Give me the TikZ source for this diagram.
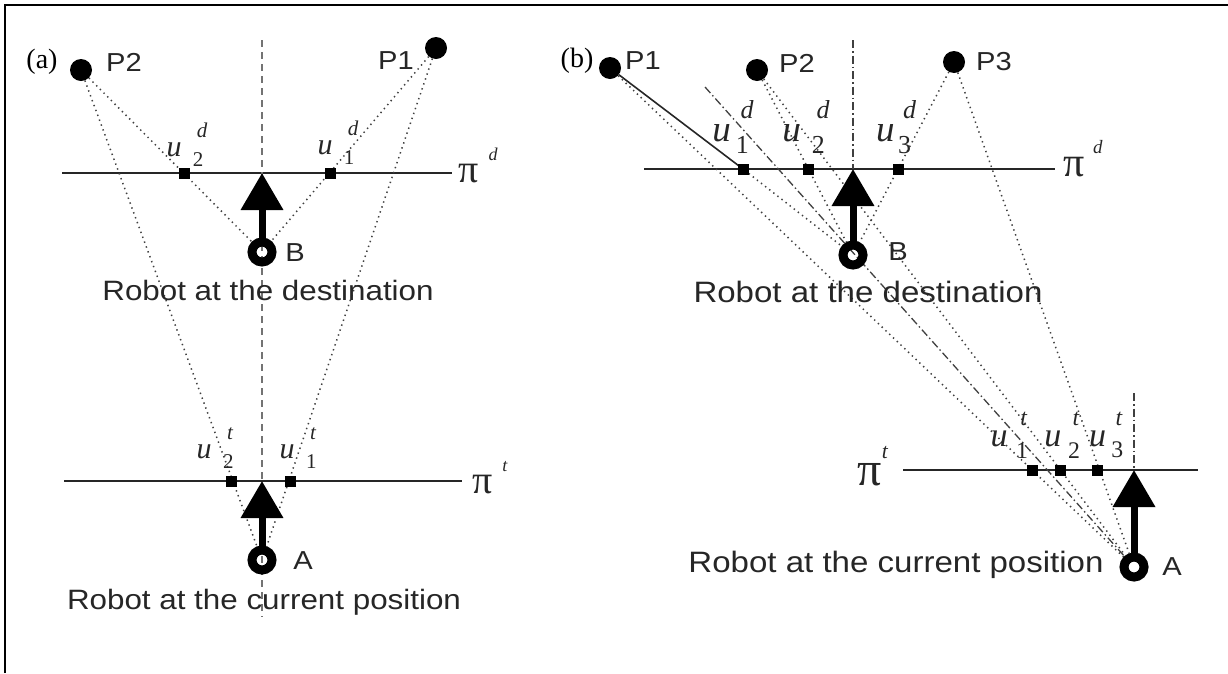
\documentclass[tikz,border=0pt]{standalone}
\usepackage{fontspec}
\newfontfamily\labelfont{Liberation Sans}[FakeStretch=1.12]
\newfontfamily\tagfont{Liberation Serif}
\usetikzlibrary{arrows.meta,backgrounds}

% projection label u with a low index and a high mark
\newcommand{\projlab}[3][0.38em]{\textit{u}\hspace{#1}\rlap{\raisebox{-0.34em}{\scalebox{0.7}{#2}}}\hspace{0.13em}\raisebox{0.62em}{\scalebox{0.7}{\textit{#3}}}}
% image plane label
\newcommand{\planename}[2][0.25em]{π\hspace{#1}\raisebox{0.55em}{\scalebox{0.45}{\textit{#2}}}}

\tikzset{
  dotline/.style={draw=black!75, line width=1.5pt, dash pattern=on 1.4pt off 3.8pt},
  dashline/.style={draw=black!55, line width=1.5pt, dash pattern=on 7pt off 5pt},
  dashdotline/.style={draw=black!75, line width=1.3pt, dash pattern=on 8pt off 3pt on 1.5pt off 3pt},
  rayline/.style={draw=black!85, line width=1.6pt},
  plane/.style={draw=black!85, line width=1.8pt},
  landmark/.style={circle, fill=black, minimum size=22pt, inner sep=0pt},
  proj/.style={rectangle, fill=black, minimum size=11pt, inner sep=0pt},
  robot/.style={circle, draw=black, line width=9pt, minimum size=20pt, inner sep=0pt},
  heading/.style={draw=black, line width=7pt, -{Triangle[width=41pt,length=37pt]}},
  tag/.style={font=\tagfont\fontsize{28}{32}\selectfont, inner sep=0pt},
  lbl/.style={font=\labelfont\fontsize{26}{30}\selectfont, text=black!85, inner sep=0pt},
  caption/.style={font=\labelfont\fontsize{#1}{32}\selectfont, text=black!85, inner sep=0pt},
  ulab/.style={font=\tagfont\fontsize{#1}{40}\selectfont, text=black!85, inner sep=0pt},
  planelab/.style={font=\tagfont\fontsize{#1}{50}\selectfont, text=black!85, inner sep=0pt}
}

\begin{document}
\begin{tikzpicture}[x=1pt,y=-1pt]
  \useasboundingbox (0,0) rectangle (1228,673);
  % Frame
  \draw[line width=2.2pt] (5,673) -- (5,5) -- (1228,5);

  % ---------------- (a) ----------------
  \node[tag] (taga) at (42,62) {(a)};
  % Landmarks
  \node[landmark] (P2a) at (81,70) {};
  \node[lbl] (lP2a) at (124,62) {P2};
  \node[landmark] (P1a) at (436,48) {};
  \node[lbl] (lP1a) at (396,61) {P1};
  % Image plane at the destination
  \coordinate (pdla) at (62,173);
  \coordinate (pdra) at (452,173);
  \node[planelab=40] (lpda) at (478,165) {\planename{d}};
  \node[proj] (u2da) at (184,173) {};
  \node[proj] (u1da) at (330,173) {};
  \node[ulab=30] (lu2da) at (187,145) {\projlab{2}{d}};
  \node[ulab=30] (lu1da) at (338,143) {\projlab{1}{d}};
  % Robot B
  \coordinate (tipBa) at (262,173);
  \node[robot] (Ba) at (262,252) {};
  \node[lbl] (lBa) at (295,253) {B};
  \node[caption=28] (cBa) at (268,290) {Robot at the destination};
  % Image plane at the current position
  \coordinate (ptla) at (64,481);
  \coordinate (ptra) at (462,481);
  \node[planelab=40] (lpta) at (490,478) {\planename{t}};
  \node[proj] (u2ta) at (231,481) {};
  \node[proj] (u1ta) at (290,481) {};
  \node[ulab=30] (lu2ta) at (215,448) {\projlab{2}{t}};
  \node[ulab=30] (lu1ta) at (298,448) {\projlab{1}{t}};
  % Robot A
  \coordinate (tipAa) at (262,481);
  \node[robot] (Aa) at (262,560) {};
  \node[lbl] (lAa) at (303,561) {A};
  \node[caption=28] (cAa) at (264,602) {Robot at the current position};
  \coordinate (topa) at (262,40);
  \coordinate (bota) at (262,617);

  % ---------------- (b) ----------------
  \node[tag] (tagb) at (577,61) {(b)};
  % Landmarks
  \node[landmark] (P1b) at (610,68) {};
  \node[lbl] (lP1b) at (643,61) {P1};
  \node[landmark] (P2b) at (757,70) {};
  \node[lbl] (lP2b) at (797,63) {P2};
  \node[landmark] (P3b) at (954,62) {};
  \node[lbl] (lP3b) at (994,62) {P3};
  % Image plane at the destination
  \coordinate (pdlb) at (644,169);
  \coordinate (pdrb) at (1055,169);
  \node[planelab=42] (lpdb) at (1083,159) {\planename[0.2em]{d}};
  \node[proj] (u1db) at (743,169) {};
  \node[proj] (u2db) at (808,169) {};
  \node[proj] (u3db) at (898,169) {};
  \node[ulab=37] (lu1db) at (733,127) {\projlab[0.13em]{1}{d}};
  \node[ulab=37] (lu2db) at (806,127) {\projlab[0.3em]{2}{d}};
  \node[ulab=37] (lu3db) at (896,127) {\projlab[0.1em]{3}{d}};
  % Robot B
  \coordinate (tipBb) at (853,169);
  \node[robot] (Bb) at (853,255) {};
  \node[lbl] (lBb) at (898,252) {B};
  \node[caption=29.5] (cBb) at (868,292) {Robot at the destination};
  % Image plane at the current position
  \coordinate (ptlb) at (903,470);
  \coordinate (ptrb) at (1198,470);
  \node[planelab=48] (lptb) at (873,466) {\planename[0pt]{t}};
  \node[proj] (u1tb) at (1032,470) {};
  \node[proj] (u2tb) at (1060,470) {};
  \node[proj] (u3tb) at (1097,470) {};
  \node[ulab=34] (lu1tb) at (1009,435) {\projlab[0.25em]{1}{t}};
  \node[ulab=34] (lu2tb) at (1062,435) {\projlab[0.2em]{2}{t}};
  \node[ulab=34] (lu3tb) at (1106,435) {\projlab[0.15em]{3}{t}};
  % Robot A
  \coordinate (tipAb) at (1134,470);
  \node[robot] (Ab) at (1134,567) {};
  \node[lbl] (lAb) at (1172,567) {A};
  \node[caption=29.5] (cAb) at (896,565) {Robot at the current position};
  \coordinate (topb) at (853,40);
  \coordinate (topAb) at (1134,393);
  \coordinate (slantb) at (705,87);

  % Headings
  \draw[heading] (Ba) -- (tipBa);
  \draw[heading] (Aa) -- (tipAa);
  \draw[heading] (Bb) -- (tipBb);
  \draw[heading] (Ab) -- (tipAb);

  % Rays and planes
  \begin{scope}[on background layer]
    \draw[plane] (pdla) -- (pdra);
    \draw[plane] (ptla) -- (ptra);
    \draw[dashline] (topa) -- (bota);
    \draw[dotline] (P2a) -- (Ba);
    \draw[dotline] (P1a) -- (Ba);
    \draw[dotline] (P2a) -- (Aa);
    \draw[dotline] (P1a) -- (Aa);

    \draw[plane] (pdlb) -- (pdrb);
    \draw[plane] (ptlb) -- (ptrb);
    \draw[dashdotline] (topb) -- (tipBb);
    \draw[dashdotline] (topAb) -- (tipAb);
    \draw[dashdotline] (slantb) -- (Ab);
    \draw[rayline] (P1b) -- (u1db.center);
    \draw[dotline] (u1db) -- (Bb);
    \draw[dotline] (P2b) -- (Bb);
    \draw[dotline] (P3b) -- (Bb);
    \draw[dotline] (P1b) -- (Ab);
    \draw[dotline] (P2b) -- (Ab);
    \draw[dotline] (P3b) -- (Ab);
  \end{scope}
\end{tikzpicture}
\end{document}
